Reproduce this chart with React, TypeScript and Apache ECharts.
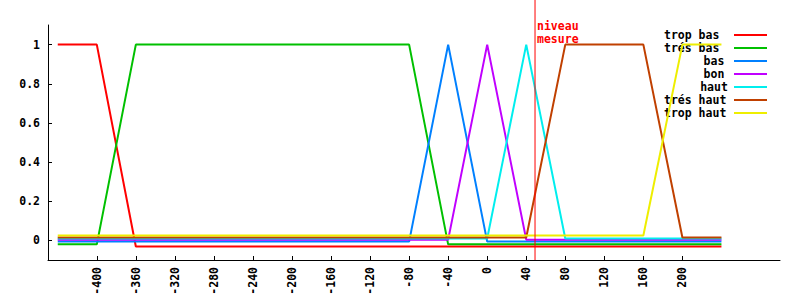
import React, { useEffect, useRef } from 'react';
import * as echarts from 'echarts';

const seriesNames = ['trop bas', 'trés bas', 'bas', 'bon', 'haut', 'trés haut', 'trop haut'];
const seriesColors = ['#ff0000', '#00c000', '#0080ff', '#c000ff', '#00eeee', '#c04000', '#eeee00'];
const indentedNames = ['bas', 'bon', 'haut'];

const tropBasX = [-440, -400, -360, 240];
const tropBasY = [1, 1, -0.031, -0.031];
const tresBasX = [-440, -400, -360, -80, -40, 240];
const tresBasY = [-0.02, -0.02, 1, 1, -0.02, -0.02];
const basX = [-440, -80, -40, 0, 240];
const basY = [-0.006, -0.006, 1, -0.006, -0.006];
const bonX = [-440, -40, 0, 40, 240];
const bonY = [0.004, 0.004, 1, 0.004, 0.004];
const hautX = [-440, 0, 40, 80, 240];
const hautY = [0.01, 0.01, 1, 0.01, 0.01];
const tresHautX = [-440, 40, 80, 160, 200, 240];
const tresHautY = [0.015, 0.015, 1, 1, 0.015, 0.015];
const tropHautX = [-440, 160, 200, 240];
const tropHautY = [0.025, 0.025, 1, 1];

const allX = [tropBasX, tresBasX, basX, bonX, hautX, tresHautX, tropHautX];
const allY = [tropBasY, tresBasY, basY, bonY, hautY, tresHautY, tropHautY];

const xTicks = [-400, -360, -320, -280, -240, -200, -160, -120, -80, -40, 0, 40, 80, 120, 160, 200];
const yTicks = [0, 0.2, 0.4, 0.6, 0.8, 1];
const xMin = -450;
const xMax = 300;
const yMin = -0.1;
const yMax = 1.1;

const measuredLevel = 49;
const measuredLabelLines = ['niveau', 'mesure'];

const FONT = '"DejaVu Sans Mono", monospace';

export default function App() {
  const ref = useRef<HTMLDivElement>(null);
  useEffect(() => {
    if (!ref.current) return;
    const chart = echarts.init(ref.current, null, { renderer: 'svg' });
    const baseText = { fontFamily: FONT, fontWeight: 'bold' as const, fontSize: 11.5, color: '#000' };
    chart.setOption({
      animation: false,
      backgroundColor: '#fff',
      grid: { left: 48, top: 25, right: 20, bottom: 40, outerBoundsMode: 'none', containLabel: false },
      legend: {
        data: seriesNames,
        orient: 'vertical',
        align: 'right',
        left: 664,
        top: 28.5,
        padding: 0,
        itemGap: 0,
        itemWidth: 33,
        itemHeight: 2,
        icon: 'rect',
        selectedMode: false,
        formatter: (name: string) =>
          indentedNames.includes(name) ? `{s| }{n|${name}}` : `{w|${name}}`,
        textStyle: {
          ...baseText,
          lineHeight: 13,
          rich: {
            s: { ...baseText, width: 35, lineHeight: 13 },
            n: { ...baseText, width: 30, align: 'left', lineHeight: 13 },
            w: { ...baseText, width: 65, align: 'left', lineHeight: 13 },
          },
        },
      },
      xAxis: {
        type: 'value',
        min: xMin,
        max: xMax,
        axisLine: { show: true, onZero: false, lineStyle: { color: '#000', width: 1 } },
        axisTick: { show: true, inside: true, length: 4, customValues: xTicks, lineStyle: { color: '#000' } },
        axisLabel: { ...baseText, rotate: 90, margin: 7, customValues: xTicks, formatter: (v: number) => String(v) },
        splitLine: { show: false },
      },
      yAxis: {
        type: 'value',
        min: yMin,
        max: yMax,
        axisLine: { show: true, onZero: false, lineStyle: { color: '#000', width: 1 } },
        axisTick: { show: true, inside: true, length: 4, customValues: yTicks, lineStyle: { color: '#000' } },
        axisLabel: { ...baseText, margin: 8, customValues: yTicks, formatter: (v: number) => String(v) },
        splitLine: { show: false },
      },
      series: seriesNames.map((name, i) => ({
        name,
        type: 'line',
        data: allX[i].map((x, j) => [x, allY[i][j]]),
        showSymbol: false,
        symbol: 'none',
        color: seriesColors[i],
        lineStyle: { width: 2, color: seriesColors[i] },
        emphasis: { disabled: true },
        z: 2 + i,
      })),
    });
    const px = chart.convertToPixel({ xAxisIndex: 0 }, measuredLevel) as number;
    const bottom = chart.convertToPixel({ yAxisIndex: 0 }, yMin) as number;
    chart.setOption({
      graphic: [
        {
          type: 'line',
          shape: { x1: px, y1: 0, x2: px, y2: bottom },
          style: { stroke: '#ff0000', lineWidth: 1 },
          z: 100,
        },
        ...measuredLabelLines.map((line, i) => ({
          type: 'text',
          x: px + 2,
          y: 20 + i * 13,
          style: {
            text: line,
            fill: '#ff0000',
            font: `bold 11.5px ${FONT}`,
          },
          z: 100,
        })),
      ],
    });
    return () => chart.dispose();
  }, []);
  return (
    <div
      ref={ref}
      style={{ position: 'fixed', left: 0, top: 0, width: 800, height: 300, background: '#fff' }}
    />
  );
}
